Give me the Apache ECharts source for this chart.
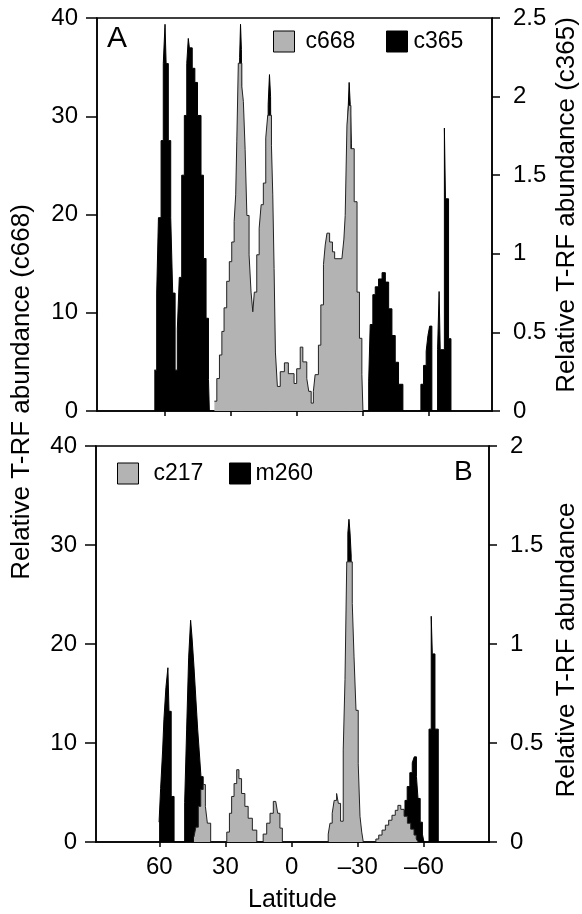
<!DOCTYPE html>
<html>
<head>
<meta charset="utf-8">
<script src="https://cdn.jsdelivr.net/npm/echarts@6/dist/echarts.min.js"></script>
<style>
html,body{margin:0;padding:0;background:#fff;}
#chart{width:582px;height:914px;}
</style>
</head>
<body>
<div id="chart"></div>
<script>
// ---------- Data (latitude edges, value starting at that edge) ----------
// Panel A
const latA_c365 = [64.9,63.8,63.0,61.8,60.8,60.0,59.5,58.5,57.4,56.5,55.4,54.4,53.5,52.4,51.2,50.1,49.4,48.9,47.6,46.4,45.2,43.6,42.5,41.3,40.2,39.8,
  26.0,25.6,25.2,24.5,
  13.0,12.4,11.9,11.2,
  -23.4,-23.9,-24.4,-24.9,-25.5,
  -32.8,-33.5,-34.7,-35.8,-37.3,-38.9,-40.4,-41.9,-43.4,-44.9,-46.4,-48.4,
  -56.6,-57.8,-59.0,-59.8,-60.6,-61.6,
  -64.2,-64.9,-65.4,-67.3,-67.8,-69.2,-70.3];
const valA_c365 = [0.26,0.75,1.23,1.72,2.21,2.46,2.21,1.72,1.23,0.75,0.26,0.52,0.85,1.5,1.88,2.21,2.37,2.31,2.18,2.09,1.88,1.5,0.97,0.59,0.2,0,
  2.25,2.46,2.3,0,
  1.95,2.14,2.0,0,
  1.9,2.09,1.95,1.7,0,
  0.19,0.55,0.74,0.79,0.84,0.88,0.82,0.65,0.48,0.31,0.17,0,
  0.17,0.29,0.38,0.48,0.54,0,
  0.39,0.76,0.39,1.8,1.35,0.46,0];

const latA_c668 = [37.5,36.4,35.2,34.1,33.1,31.9,30.7,29.6,28.5,27.8,27.3,26.6,25.0,24.3,23.5,22.7,21.7,20.8,20.0,19.3,18.2,17.1,16.2,15.2,14.1,13.2,11.5,10.9,10.3,9.7,
  8.8,7.5,5.6,3.8,1.2,0.0,-1.6,-2.8,-4.6,-5.5,-6.6,-7.6,-8.4,-9.9,-11.0,-12.2,-13.0,-13.8,-15.0,-16.3,-17.3,-20.6,-21.5,-22.1,-22.9,-23.6,-24.7,-26.2,-27.5,-28.6,-29.7,-30.2];
const valA_c668 = [1.0,3.3,5.7,8.1,10.5,13.2,15.2,17.2,19.3,22.0,27.4,35.4,33.0,31.5,26.6,19.9,15.9,12.1,10.1,12.1,15.9,18.6,21.0,23.2,27.8,30.1,27.0,22.0,14.5,6.0,
  2.5,4.0,4.9,3.8,2.8,4.3,6.5,5.0,3.3,2.0,0.8,2.0,3.7,6.7,10.8,14.9,16.9,18.1,17.2,16.2,15.5,15.5,17.5,19.9,29.1,31.1,26.7,21.3,12.1,7.4,3.7,0];

// Panel B
const latB_m260 = [60.1,59.4,58.5,57.9,57.0,56.1,55.6,54.6,53.3,
  48.5,47.6,46.7,45.8,45.2,44.3,43.4,42.6,41.9,41.1,40.1,
  -25.5,-26.0,-26.5,-27.0,-27.5,
  -46.0,-48.0,-50.0,-51.4,-52.4,-53.6,-54.7,-55.6,-56.6,-57.3,-58.3,-59.3,-60.0,
  -62.3,-63.3,-63.8,-65.0,-66.5];
const valB_m260 = [0.10,0.27,0.46,0.62,0.78,0.88,0.66,0.23,0,
  0.20,0.57,0.93,1.12,1.04,0.89,0.72,0.57,0.46,0.33,0,
  1.56,1.63,1.56,1.45,0,
  0.05,0.10,0.16,0.21,0.28,0.35,0.40,0.43,0.33,0.22,0.10,0.04,0,
  0.57,1.14,0.95,0.57,0];

const latB_c217 = [44.3,43.4,42.3,41.2,40.1,39.1,38.2,36.7,
  29.4,28.2,27.2,26.1,24.9,23.9,22.7,21.2,19.7,17.8,15.8,
  12.9,11.3,9.8,8.3,7.2,6.3,5.3,4.2,
  -16.6,-17.4,-18.4,-19.3,-20.4,-21.2,-22.2,-23.4,-24.2,-25.0,-27.5,-28.3,-29.2,-30.2,-31.0,-31.8,-32.5,
  -38.2,-39.5,-41.0,-42.5,-44.0,-45.5,-47.0,-48.2,-49.5,-51.0,-52.5,-54.0,-55.5,-56.5,-57.4];
const valB_c217 = [0.5,1.5,3.6,5.3,5.8,3.6,1.9,0,
  1.0,2.9,4.6,5.9,7.3,6.4,4.9,3.6,2.4,1.2,0,
  0.8,1.9,2.9,4.1,4.2,2.9,1.4,0,
  0.8,1.9,2.9,4.2,4.9,3.9,2.1,9.3,16.4,28.3,24.1,18.7,13.3,7.9,2.6,1.0,0,
  0.3,0.7,1.2,1.7,2.2,2.7,3.2,3.7,3.3,2.6,1.9,1.3,0.7,0.3,0];

const xTicks = [60, 30, 0, -30, -60];

// ---------- Chart ----------
const FONT = 'Liberation Sans, Arial, Helvetica, sans-serif';
const GRAY = '#b3b3b3';
const zip = (a, b) => a.map((v, i) => [v, b[i]]);

const chart = echarts.init(document.getElementById('chart'), null, {renderer: 'canvas'});

function xAxisBase(gi, showLabels, mn, mx) {
  return {
    type: 'value', gridIndex: gi, inverse: true, min: mn, max: mx,
    axisLine: {show: true, onZero: false, lineStyle: {color: '#000', width: 1.5}},
    axisTick: {show: true, inside: false, length: 5, customValues: xTicks, lineStyle: {color: '#000', width: 1.5}},
    axisLabel: {show: showLabels, customValues: xTicks, margin: 13, fontSize: 24, color: '#000', fontFamily: FONT,
      formatter: v => v < 0 ? '\u2013' + (-v) : String(v)},
    splitLine: {show: false}
  };
}
function yAxisBase(gi, pos, mx, interval, tickLen, margin) {
  return {
    type: 'value', gridIndex: gi, position: pos, min: 0, max: mx, interval: interval,
    axisLine: {show: true, onZero: false, lineStyle: {color: '#000', width: 1.5}},
    axisTick: {show: true, inside: false, length: tickLen, lineStyle: {color: '#000', width: 1.5}},
    axisLabel: {show: true, margin: margin, fontSize: 24, color: '#000', fontFamily: FONT},
    splitLine: {show: false}
  };
}
function blackSeries(name, xi, yi, lat, val) {
  return {name: name, type: 'line', xAxisIndex: xi, yAxisIndex: yi, data: zip(lat, val), step: 'end',
    symbol: 'none', z: 2, color: '#000', itemStyle: {color: '#000'},
    lineStyle: {color: '#000', width: 1}, areaStyle: {color: '#000', opacity: 1}, animation: false};
}
function graySeries(name, xi, yi, lat, val) {
  return {name: name, type: 'line', xAxisIndex: xi, yAxisIndex: yi, data: zip(lat, val), step: 'end',
    symbol: 'none', z: 3, color: GRAY, itemStyle: {color: GRAY},
    lineStyle: {color: '#222', width: 1}, areaStyle: {color: GRAY, opacity: 1}, animation: false};
}
function legendOne(name, left, top, isGray, padLeft) {
  return {
    data: [name], left: left, top: top, padding: 0, icon: 'rect', itemWidth: 21, itemHeight: 21,
    selectedMode: false,
    itemStyle: isGray ? {color: GRAY, borderColor: '#000', borderWidth: 1} : {color: '#000', borderColor: '#000', borderWidth: 1},
    textStyle: {fontSize: 23, color: '#000', fontFamily: FONT, padding: [0, 0, 0, padLeft]}
  };
}

const xA = xAxisBase(0, false, -89, 91);
const xB = xAxisBase(1, true, -89.5, 88.7);
xB.name = 'Latitude';
xB.nameLocation = 'middle';
xB.nameGap = 46;
xB.nameTextStyle = {fontSize: 25, color: '#000', fontFamily: FONT};

const option = {
  animation: false,
  backgroundColor: '#fff',
  textStyle: {fontFamily: FONT},
  grid: [
    {left: 97, right: 90, top: 18, height: 393, show: true, borderColor: '#000', borderWidth: 1.5, backgroundColor: 'transparent'},
    {left: 96, right: 93, top: 446, height: 396, show: true, borderColor: '#000', borderWidth: 1.5, backgroundColor: 'transparent'}
  ],
  xAxis: [xA, xB],
  yAxis: [
    yAxisBase(0, 'left', 40, 10, 11, 19),
    yAxisBase(0, 'right', 2.5, 0.5, 8, 21),
    yAxisBase(1, 'left', 40, 10, 11, 19),
    yAxisBase(1, 'right', 2, 0.5, 8, 21)
  ],
  legend: [
    legendOne('c668', 273, 30, true, 6),
    legendOne('c365', 386, 30, false, 1),
    legendOne('c217', 117, 462, true, 10),
    legendOne('m260', 229, 462, false, 0)
  ],
  series: [
    blackSeries('c365', 0, 1, latA_c365, valA_c365),
    graySeries('c668', 0, 0, latA_c668, valA_c668),
    blackSeries('m260', 1, 3, latB_m260, valB_m260),
    graySeries('c217', 1, 2, latB_c217, valB_c217)
  ],
  graphic: [
    {type: 'text', left: 107, top: 24, style: {text: 'A', fontSize: 30, fill: '#000', fontFamily: FONT}},
    {type: 'text', left: 454, top: 458, style: {text: 'B', fontSize: 28, fill: '#000', fontFamily: FONT}},
    {type: 'text', x: 22, y: 392, rotation: Math.PI / 2,
      style: {text: 'Relative T-RF abundance (c668)', fontSize: 26, fill: '#000', fontFamily: FONT, align: 'center', verticalAlign: 'middle'}},
    {type: 'text', x: 567, y: 205, rotation: Math.PI / 2,
      style: {text: 'Relative T-RF abundance (c365)', fontSize: 26, fill: '#000', fontFamily: FONT, align: 'center', verticalAlign: 'middle'}},
    {type: 'text', x: 567, y: 650, rotation: Math.PI / 2,
      style: {text: 'Relative T-RF abundance', fontSize: 26, fill: '#000', fontFamily: FONT, align: 'center', verticalAlign: 'middle'}}
  ]
};
chart.setOption(option);
</script>
</body>
</html>
